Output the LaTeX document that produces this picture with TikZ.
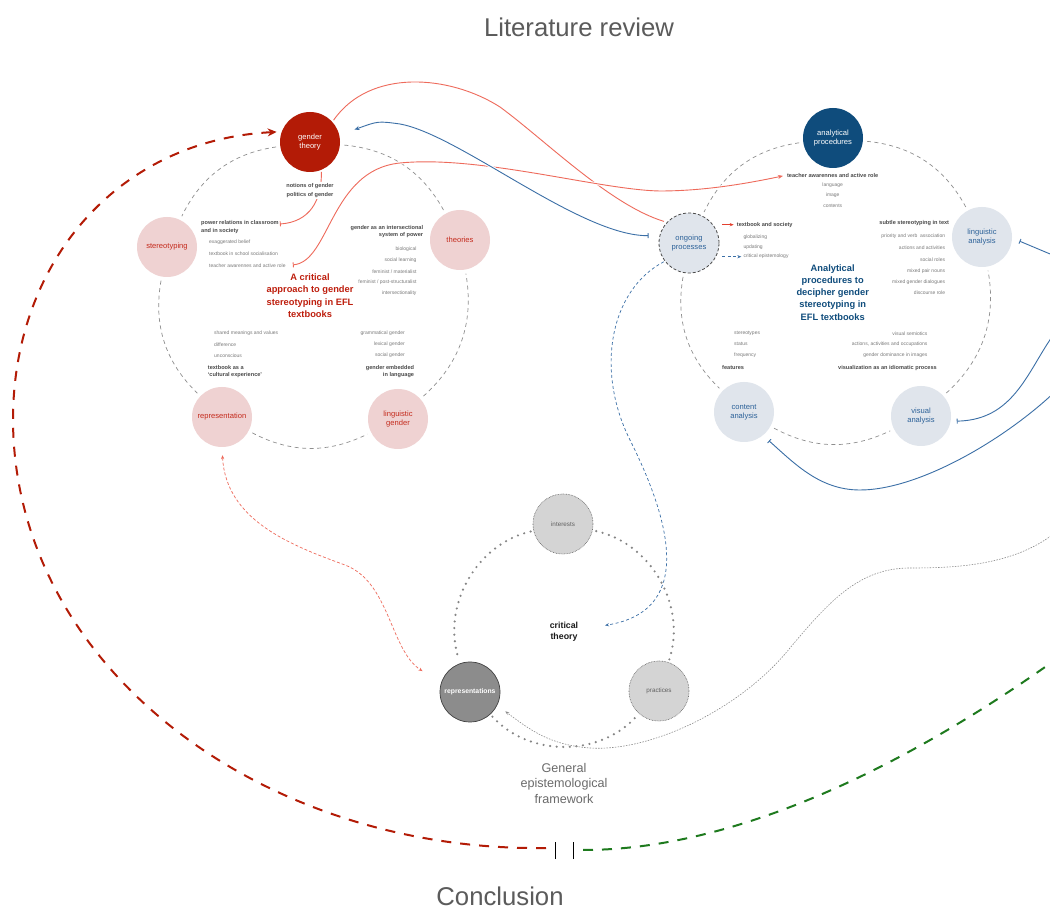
\documentclass[tikz,border=0pt]{standalone}
\usepackage{fontspec}
\setmainfont{Liberation Sans}
\usetikzlibrary{arrows.meta,backgrounds}

\definecolor{gtred}{HTML}{B31B06}
\definecolor{pinkfill}{HTML}{EFD2D2}
\definecolor{pinktext}{HTML}{C42A1C}
\definecolor{titlered}{HTML}{BE1E0D}
\definecolor{navy}{HTML}{0F4C7C}
\definecolor{mist}{HTML}{E0E5EC}
\definecolor{bluetext}{HTML}{2D6299}
\definecolor{salmon}{HTML}{EE6A5B}
\definecolor{arrowred}{HTML}{E3402F}
\definecolor{linkblue}{HTML}{3B6FA6}
\definecolor{arcgray}{HTML}{8E8E8E}
\definecolor{dotgray}{HTML}{858585}
\definecolor{boldgray}{HTML}{4A4A4A}
\definecolor{itemgray}{HTML}{7A7A7A}
\definecolor{headgray}{HTML}{5B5B5B}
\definecolor{darkgreen}{HTML}{1E7A1E}

\newcommand{\myfs}[2]{\fontsize{#1pt}{#2pt}\selectfont}

\tikzset{
  hub/.style={circle, minimum size=60pt, inner sep=0pt, align=center, font=\myfs{7.6}{9}},
  gtnode/.style={hub, fill=gtred, text=white},
  pinknode/.style={hub, fill=pinkfill, text=pinktext},
  navynode/.style={hub, fill=navy, text=white},
  mistnode/.style={hub, fill=mist, text=bluetext},
  opnode/.style={mistnode, draw=boldgray, line width=0.8pt, dash pattern=on 3pt off 2pt},
  greynode/.style={hub, fill=black!17, draw=black!60, line width=0.6pt,
    dash pattern=on 0.7pt off 0.9pt, text=black!62, font=\myfs{6.3}{8}},
  darknode/.style={hub, fill=black!45, draw=black!75, line width=0.7pt,
    text=white, font=\bfseries\myfs{6.8}{8}},
  item/.style={inner sep=1pt, text=itemgray, font=\myfs{5}{6}},
  bolditem/.style={inner sep=1pt, text=boldgray, font=\bfseries\myfs{5.6}{7.3}},
  titleredtext/.style={align=center, inner sep=1pt, text=titlered, font=\bfseries\myfs{9.3}{12.3}},
  titlebluetext/.style={align=center, inner sep=1pt, text=navy, font=\bfseries\myfs{9.3}{12.3}},
  heading/.style={text=headgray, font=\myfs{25.7}{30}},
  ringarc/.style={draw=arcgray, line width=0.7pt, dash pattern=on 4pt off 3.5pt,
    shorten <=4pt, shorten >=4pt},
  dotring/.style={draw=dotgray, line width=2.4pt, line cap=round,
    dash pattern=on 0pt off 6.6pt, shorten <=3pt, shorten >=3pt},
  salmonline/.style={draw=salmon, line width=0.9pt},
  blueline/.style={draw=linkblue, line width=0.9pt},
  halo/.style={preaction={draw=white, line width=3pt, -}},
  bartip/.tip={Bar[width=5pt, line width=0.9pt]},
  headtip/.tip={Stealth[length=5pt, width=4pt]},
  smalltip/.tip={Stealth[length=4pt, width=3.2pt]},
  bigred/.style={draw=gtred, line width=2pt, dash pattern=on 10pt off 9pt},
  biggreen/.style={draw=darkgreen, line width=2pt, dash pattern=on 10pt off 9pt},
  tickline/.style={draw=black, line width=1.4pt},
}

\begin{document}
\begin{tikzpicture}[x=1pt, y=1pt]
\useasboundingbox (0,0) rectangle (1050,911);

% headings
\node[heading] (title) at (579,884) {Literature review};
\node[heading] (concl) at (500,15) {Conclusion};

% ---------- left cluster: a critical approach ----------
\node[gtnode]   (gt)  at (310,769) {gender\\theory};
\node[pinknode] (st)  at (167,664) {stereotyping};
\node[pinknode] (th)  at (460,671) {theories};
\node[pinknode] (rep) at (222,494) {representation};
\node[pinknode] (lg)  at (398,492) {linguistic\\gender};

\node[bolditem, fill=white, align=center, font=\bfseries\myfs{5.6}{9}] (notions) at (310,720.5)
  {notions of gender\\politics of gender};
\node[bolditem, anchor=west, align=left] (pow) at (200,684) {power relations in classroom\\and in society};
\node[item, anchor=west] (exag)  at (208,668.3) {exaggerated belief};
\node[item, anchor=west] (tbsoc) at (208,657) {textbook in school socialisation};
\node[item, anchor=west] (tal)   at (208,645.7) {teacher awarennes and active role};

\node[bolditem, anchor=east, align=right] (gint) at (424.3,679.5) {gender as an intersectional\\system of power};
\node[item, anchor=east] (bio)  at (417.7,662)   {biological};
\node[item, anchor=east] (soc)  at (417.7,650.7) {social learning};
\node[item, anchor=east] (fmat) at (417.7,639.7) {feminist / materialist};
\node[item, anchor=east] (fpst) at (417.7,628.7) {feminist / post-structuralist};
\node[item, anchor=east] (isec) at (417.7,617.7) {intersectionality};

\node[titleredtext] (leftttl) at (310,615.3) {A critical\\approach to gender\\stereotyping in EFL\\textbooks};

\node[item, anchor=west] (shared) at (213,578)   {shared meanings and values};
\node[item, anchor=west] (diff)   at (213,566.7) {difference};
\node[item, anchor=west] (uncon)  at (213,555.3) {unconscious};
\node[bolditem, anchor=west, align=left] (tbcult) at (206.7,539.3) {textbook as a\\`cultural experience'};

\node[item, anchor=east] (gram) at (406,578)   {grammatical gender};
\node[item, anchor=east] (lex)  at (406,566.7) {lexical gender};
\node[item, anchor=east] (sgen) at (406,555.3) {social gender};
\node[bolditem, anchor=east, align=right] (gemb) at (415.3,539.3) {gender embedded\\in language};

% ---------- right cluster: analytical procedures ----------
\node[navynode] (ap) at (833,773) {analytical\\procedures};
\node[opnode]   (op) at (689,668) {ongoing\\processes};
\node[mistnode] (la) at (982,674) {linguistic\\analysis};
\node[mistnode] (ca) at (744,499) {content\\analysis};
\node[mistnode] (va) at (921,495) {visual\\analysis};

\node[bolditem] (tar)  at (832.7,735.7) {teacher awarennes and active role};
\node[item]     (lang) at (832.7,725.7) {language};
\node[item]     (img)  at (832.7,715.7) {image};
\node[item]     (cont) at (832.7,705.3) {contents};

\node[bolditem, anchor=west] (tbs)  at (735.7,686.3) {textbook and society};
\node[item, anchor=west]     (glob) at (742.3,674)   {globalizing};
\node[item, anchor=west]     (upd)  at (742.3,664)   {updating};
\node[item, anchor=west]     (cep)  at (742.3,654.3) {critical epistemology};

\node[bolditem, anchor=east] (subtle) at (950.3,687.7) {subtle stereotyping in text};
\node[item, anchor=east] (prio) at (946.3,674.7) {priority and verb~ association};
\node[item, anchor=east] (act)  at (946.3,663)   {actions and activities};
\node[item, anchor=east] (srol) at (946.3,651.3) {social roles};
\node[item, anchor=east] (mpn)  at (946.3,640)   {mixed pair nouns};
\node[item, anchor=east] (mgd)  at (946.3,628.7) {mixed gender dialogues};
\node[item, anchor=east] (drol) at (946.3,618)   {discourse role};

\node[titlebluetext] (rightttl) at (832.7,618.7) {Analytical\\procedures to\\decipher gender\\stereotyping in\\EFL textbooks};

\node[item, anchor=west] (stypes) at (733,577.7) {stereotypes};
\node[item, anchor=west] (stat)   at (733,567)   {status};
\node[item, anchor=west] (freq)   at (733,556)   {frequency};
\node[bolditem, anchor=west] (feat) at (721,543) {features};

\node[item, anchor=east] (vsem) at (928.7,577.7) {visual semiotics};
\node[item, anchor=east] (aao)  at (928.7,566.7) {actions, activities and occupations};
\node[item, anchor=east] (gdi)  at (928.7,555.3) {gender dominance in images};
\node[bolditem, anchor=east] (vis) at (938,543) {visualization as an idiomatic process};

% ---------- bottom cluster: general epistemological framework ----------
\node[greynode] (int)  at (563,387) {interests};
\node[darknode] (reps) at (470,219) {representations};
\node[greynode] (prac) at (659,220) {practices};
\node[align=center, inner sep=1pt, text=black!90, font=\bfseries\myfs{8.8}{10.6}] (ct) at (564,279) {critical\\theory};
\node[align=center, inner sep=1pt, text=black!58, font=\myfs{12.6}{15.5}] (gef) at (564,128)
  {General\\epistemological\\framework};

% free ends of the long connectors
\coordinate (redstart)   at (546,63);
\coordinate (greenstart) at (583,61);
\coordinate (edgeL) at (1062,652);
\coordinate (edgeV) at (1062,587);
\coordinate (edgeC) at (1062,526);
\coordinate (edgeD) at (1062,384);
\coordinate (edgeG) at (1062,256);

\begin{scope}[on background layer]
  \fill[white] (0,0) rectangle (1050,911);

  % rings joining the nodes of each cluster
  \draw[ringarc] (gt)  to[bend right=28] (st);
  \draw[ringarc] (st)  to[bend right=28] (rep);
  \draw[ringarc] (rep) to[bend right=27] (lg);
  \draw[ringarc] (lg)  to[bend right=29] (th);
  \draw[ringarc] (th)  to[bend right=28] (gt);

  \draw[ringarc] (ap) to[bend right=28] (op);
  \draw[ringarc] (op) to[bend right=28] (ca);
  \draw[ringarc] (ca) to[bend right=27] (va);
  \draw[ringarc] (va) to[bend right=29] (la);
  \draw[ringarc] (la) to[bend right=28] (ap);

  \draw[dotring] (int)  to[bend right=48] (reps);
  \draw[dotring] (reps) to[bend right=48] (prac);
  \draw[dotring] (prac) to[bend right=48] (int);

  % links between the clusters
  \draw[salmonline, shorten <=2pt, shorten >=3pt] (gt.42)
    .. controls (370,843) and (450,836) .. (500,804)
    .. controls (545,771) and (610,706) .. (op.137);

  \draw[salmonline, halo, bartip-headtip, shorten <=6pt, shorten >=3pt] (tal.east)
    .. controls (330,649) and (330,741) .. (400,748)
    .. controls (480,756) and (600,721) .. (660,720)
    .. controls (700,720) and (740,726) .. (tar.west);

  \draw[blueline, halo, bartip-headtip, shorten <=11pt, shorten >=16pt] (op.166)
    .. controls (580,675) and (460,776) .. (400,787)
    .. controls (378,790) .. (gt.13);

  \draw[salmonline, -bartip, shorten <=2pt] (gt.-68)
    .. controls (322,711) and (310,689) .. ([yshift=3pt]pow.east);

  \draw[draw=arrowred, line width=0.9pt, -smalltip, shorten <=3pt, shorten >=2pt]
    (op.east |- tbs.west) -- (tbs.west);
  \draw[blueline, line width=0.8pt, dash pattern=on 3pt off 2.5pt, -smalltip, shorten <=3pt, shorten >=1pt]
    (op.east |- cep.west) -- (cep.west);

  \draw[blueline, line width=0.7pt, dash pattern=on 3pt off 2.5pt, -smalltip, shorten <=1pt, shorten >=26pt]
    (op.217) .. controls (610,621) and (595,541) .. (630,471)
    .. controls (665,401) and (700,301) .. (ct);

  \draw[blueline, -bartip, shorten >=8pt] (edgeL) -- (la.-2);
  \draw[blueline, -bartip, shorten >=6pt] (edgeV)
    .. controls (1030,551) and (1020,491) .. (va.-10);
  \draw[blueline, -bartip, shorten >=8pt] (edgeC)
    .. controls (1010,474) and (920,421) .. (860,421)
    .. controls (820,421) and (795,447) .. (ca.-51);

  \draw[draw=black!45, line width=0.6pt, dash pattern=on 1.5pt off 1.3pt, -smalltip, shorten >=10pt] (edgeD)
    .. controls (1020,346) and (960,343) .. (910,343)
    .. controls (860,343) and (830,311) .. (790,263)
    .. controls (740,201) and (650,159) .. (590,163)
    .. controls (550,166) and (530,181) .. (reps.-26);

  \draw[draw=salmon, line width=0.7pt, dash pattern=on 3pt off 2pt, smalltip-smalltip,
        shorten <=8pt, shorten >=22pt] (rep.-90)
    .. controls (226,391) and (290,366) .. (345,346)
    .. controls (390,329) and (390,261) .. (reps.163);

  % the long path round the whole review
  \draw[bigred, -{Stealth[length=9pt, width=8pt]}, shorten >=5pt] (redstart)
    .. controls (260,59) and (14,245) .. (13,491)
    .. controls (13,651) and (120,771) .. (gt.160);
  \draw[biggreen] (greenstart) .. controls (750,61) and (930,161) .. (edgeG);
\end{scope}

% break marks between the two long paths
\draw[tickline] (555.5,52) -- (555.5,69);
\draw[tickline] (573.3,52) -- (573.3,69);
\end{tikzpicture}
\end{document}
